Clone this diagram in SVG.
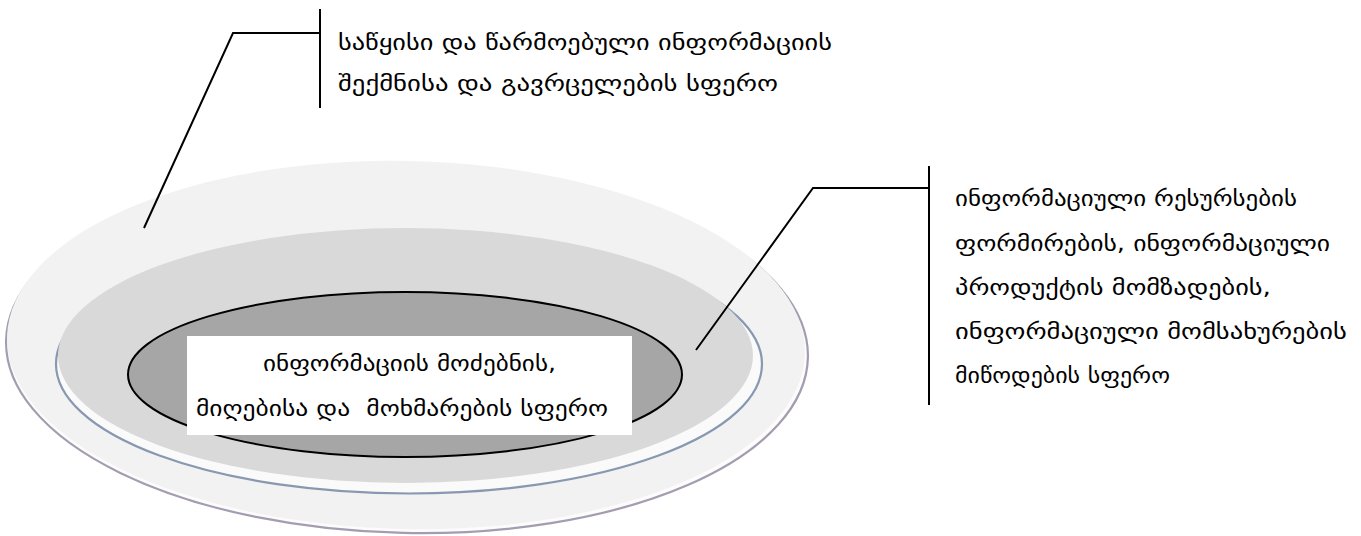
<svg xmlns="http://www.w3.org/2000/svg" width="1361" height="536" viewBox="0 0 1361 536">
<style>
.t{font-family:"DejaVu Sans",sans-serif;font-size:21px;fill:#000}
.ln{stroke:#000;stroke-width:2;fill:none}
</style>
<rect width="1361" height="536" fill="#fff"/>
<g id="outer-ring">
<ellipse cx="407" cy="349" rx="401" ry="184" fill="#fcfcfc" stroke="#a49cb0" stroke-width="2.2" transform="rotate(1.2 407 349)"/>
<ellipse cx="406" cy="345" rx="399" ry="184" fill="#f2f2f2" transform="rotate(1.2 406 345)"/>
</g>
<g id="middle-ring">
<ellipse cx="409" cy="364" rx="353" ry="129.5" fill="#fafafa" stroke="#8798b0" stroke-width="2.2"/>
<ellipse cx="405.5" cy="355.5" rx="347.5" ry="127.5" fill="#d9d9d9"/>
</g>
<g id="inner-core">
<ellipse cx="405" cy="374.5" rx="277" ry="82.5" fill="#a6a6a6" stroke="#000" stroke-width="2"/>
<rect x="187" y="336" width="445" height="99" fill="#fff"/>
<text class="t" x="263" y="371" textLength="293" lengthAdjust="spacingAndGlyphs">ინფორმაციის მოძებნის,</text>
<text class="t" x="196" y="416" textLength="412" lengthAdjust="spacingAndGlyphs" xml:space="preserve">მიღებისა და  მოხმარების სფერო</text>
</g>
<g id="label-top">
<text class="t" x="338" y="50" textLength="494" lengthAdjust="spacingAndGlyphs">საწყისი და წარმოებული ინფორმაციის</text>
<text class="t" x="338" y="91" textLength="440" lengthAdjust="spacingAndGlyphs">შექმნისა და გავრცელების სფერო</text>
</g>
<g id="label-right">
<text class="t" x="955" y="206" textLength="342" lengthAdjust="spacingAndGlyphs">ინფორმაციული რესურსების</text>
<text class="t" x="955" y="251" textLength="375" lengthAdjust="spacingAndGlyphs">ფორმირების, ინფორმაციული</text>
<text class="t" x="955" y="295" textLength="316" lengthAdjust="spacingAndGlyphs">პროდუქტის მომზადების,</text>
<text class="t" x="955" y="339" textLength="392" lengthAdjust="spacingAndGlyphs">ინფორმაციული მომსახურების</text>
<text class="t" x="955" y="383" textLength="215" lengthAdjust="spacingAndGlyphs">მიწოდების სფერო</text>
</g>
<g id="connectors">
<polyline class="ln" points="144,228 233,33 320,33"/>
<line class="ln" x1="320" y1="9" x2="320" y2="108"/>
<polyline class="ln" points="696,350 813,188 929,188"/>
<line class="ln" x1="929" y1="166" x2="929" y2="405"/>
</g>
</svg>
